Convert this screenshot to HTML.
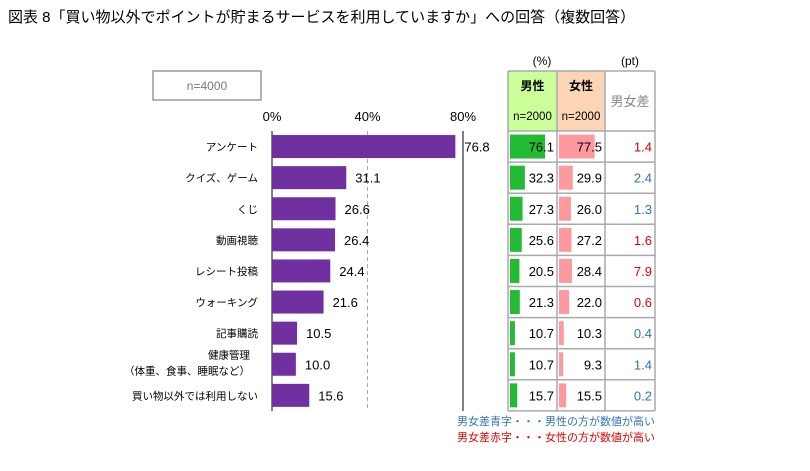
<!DOCTYPE html>
<html><head><meta charset="utf-8"><style>
body{margin:0;width:810px;height:466px;background:#fff;overflow:hidden;font-family:"Liberation Sans","Noto Sans CJK JP",sans-serif;}
svg text{font-family:"Liberation Sans","Noto Sans CJK JP",sans-serif;}
</style></head><body>
<svg width="810" height="466" id="c">
<text x="8" y="22" font-size="15" fill="#000">図表 8「買い物以外でポイントが貯まるサービスを利用していますか」への回答（複数回答）</text>
<rect x="153" y="71" width="108" height="29" fill="#fff" stroke="#999" stroke-width="1.5"/>
<text x="207" y="90" font-size="12" fill="#777" text-anchor="middle">n=4000</text>
<g id="main"></g>
<g id="tbl"></g>
<text x="542" y="65" font-size="12" text-anchor="middle">(%)</text>
<text x="630" y="65" font-size="12" text-anchor="middle">(pt)</text>
<text x="655" y="425" font-size="11" fill="#2E75B6" text-anchor="end">男女差青字・・・男性の方が数値が高い</text>
<text x="655" y="441" font-size="11" fill="#E00000" text-anchor="end">男女差赤字・・・女性の方が数値が高い</text>
</svg>
<script>
const categories=["アンケート","クイズ、ゲーム","くじ","動画視聴","レシート投稿","ウォーキング","記事購読","健康管理|（体重、食事、睡眠など）","買い物以外では利用しない"];
const totalValues=[76.8,31.1,26.6,26.4,24.4,21.6,10.5,10.0,15.6];
const maleValues=[76.1,32.3,27.3,25.6,20.5,21.3,10.7,10.7,15.7];
const femaleValues=[77.5,29.9,26.0,27.2,28.4,22.0,10.3,9.3,15.5];
const diffValues=[1.4,2.4,1.3,1.6,7.9,0.6,0.4,1.4,0.2];
const diffHigher=["f","m","m","f","f","f","m","m","m"];
const xTicks=[0,40,80];
const NS="http://www.w3.org/2000/svg";
function mk(p,t,a,txt){const e=document.createElementNS(NS,t);for(const k in a)e.setAttribute(k,a[k]);if(txt!=null)e.textContent=txt;p.appendChild(e);return e;}
const x0=272,x1=463,plotTop=131,plotBot=411,pitch=31.1;
const xs=v=>x0+v*(x1-x0)/80;
const yc=i=>plotTop+pitch*i+pitch/2;
const g=document.getElementById('main');
xTicks.forEach(t=>{
 const l=mk(g,'text',{x:xs(t),y:121,'font-size':13,'text-anchor':'middle'},t+'%');
 
 
 if(t>0&&t<80){const gl=mk(g,'line',{x1:xs(t),x2:xs(t),y1:plotTop,y2:plotBot,stroke:'#aaa','stroke-dasharray':'4,3'});
 
 }
});
const ax=mk(g,'line',{x1:x0,x2:x0,y1:plotTop,y2:plotBot,stroke:'#000'});


const rb=mk(g,'line',{x1:x1,x2:x1,y1:plotTop,y2:plotBot,stroke:'#000'});


categories.forEach((c,i)=>{
 const y=yc(i);
 const b=mk(g,'rect',{x:x0,y:y-11.5,width:xs(totalValues[i])-x0,height:23,fill:'#7030A0'});
 
 
 const v=mk(g,'text',{x:xs(totalValues[i])+9,y:y+5,'font-size':13},totalValues[i].toFixed(1));
 
 
 const parts=c.split('|');
 parts.forEach((p,j)=>{
  const ty=parts.length>1?y-6+j*16:y+4;
  const t=mk(g,'text',{x:parts.length>1?250:258,y:ty,'font-size':10.5,'text-anchor':'end'},p);
  
  
 });
});
const T=document.getElementById('tbl');
const c0=508,c1=557,c2=605,c3=655,hy=71;
const h1=mk(T,'rect',{x:c0,y:hy,width:c1-c0,height:plotTop-hy,fill:'#CCFF99'});


const h2=mk(T,'rect',{x:c1,y:hy,width:c2-c1,height:plotTop-hy,fill:'#FBD5B5'});


[["男性",c0,c1],["女性",c1,c2]].forEach(([t,a,b])=>{
 const e=mk(T,'text',{x:(a+b)/2,y:90,'font-size':12,'font-weight':'bold','text-anchor':'middle'},t);
 
 
 const n=mk(T,'text',{x:(a+b)/2,y:120,'font-size':11.5,'text-anchor':'middle'},'n=2000');
 
 
});
const dh=mk(T,'text',{x:(c2+c3)/2,y:106,'font-size':13,fill:'#888','text-anchor':'middle'},'男女差');


const sc=0.46;
categories.forEach((c,i)=>{
 const y=yc(i);
 const mb=mk(T,'rect',{x:c0+2,y:y-12,width:maleValues[i]*sc,height:24,fill:'#22BB33'});
 
 
 const fb=mk(T,'rect',{x:c1+2,y:y-12,width:femaleValues[i]*sc,height:24,fill:'#FF99A0'});
 
 
 const mt=mk(T,'text',{x:c1-3,y:y+5,'font-size':13,'text-anchor':'end'},maleValues[i].toFixed(1));
 
 
 const ft=mk(T,'text',{x:c2-3,y:y+5,'font-size':13,'text-anchor':'end'},femaleValues[i].toFixed(1));
 
 
 const dt=mk(T,'text',{x:c3-3,y:y+5,'font-size':13,'text-anchor':'end',fill:diffHigher[i]=='m'?'#2E75B6':'#E00000'},diffValues[i].toFixed(1));
 
 
});
for(let k=0;k<=categories.length;k++){const y=plotTop+pitch*k;
 const l=mk(T,'line',{x1:c0,x2:c3,y1:y,y2:y,stroke:'#aaa','stroke-width':1.5});
 
 }
const tl=mk(T,'line',{x1:c0,x2:c3,y1:hy,y2:hy,stroke:'#aaa','stroke-width':1.5});


[c0,c1,c2,c3].forEach(x=>{
 const l=mk(T,'line',{x1:x,x2:x,y1:hy,y2:plotTop+pitch*categories.length,stroke:'#aaa','stroke-width':1.5});
 
 
});
</script>
</body></html>
